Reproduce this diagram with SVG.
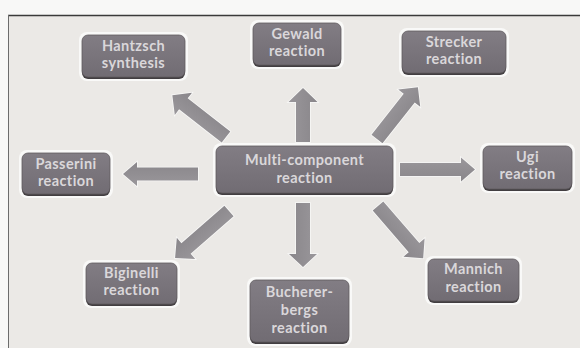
<svg xmlns="http://www.w3.org/2000/svg" width="580" height="348" viewBox="0 0 580 348">
  <defs>
    <linearGradient id="boxFill" x1="0" y1="0" x2="0" y2="1">
      <stop offset="0" stop-color="#827d84"/>
      <stop offset="1" stop-color="#716c73"/>
    </linearGradient>
    <linearGradient id="arrowFill" x1="0" y1="0" x2="0" y2="1">
      <stop offset="0" stop-color="#9a979b"/>
      <stop offset="1" stop-color="#89868a"/>
    </linearGradient>
  </defs>
  <style>
    .halo { fill: #fbfbfa; opacity: 0.85; }
    .shadow { fill: #423e41; }
    .box { fill: url(#boxFill); stroke: #5f5b5e; stroke-width: 0.8; }
    .label { font-family: Lato, "Liberation Sans", sans-serif; font-weight: 700; font-size: 14.5px; letter-spacing: 0.4px; fill: #dad7da; text-anchor: middle; }
    .arrow { fill: url(#arrowFill); stroke: #f8f8f7; stroke-width: 1.6; paint-order: stroke; stroke-linejoin: miter; }
  </style>

  <!-- page background -->
  <rect x="0" y="0" width="580" height="348" fill="#f8f8f7"/>
  <rect x="8" y="15" width="572" height="333" fill="#ebe9e6"/>
  <line x1="8" y1="15.5" x2="580" y2="15.5" stroke="#3a3a3a" stroke-width="1.6"/>
  <line x1="8.5" y1="15" x2="8.5" y2="348" stroke="#6c6c6c" stroke-width="1"/>

  <!-- connectors -->
  <g id="connectors">
    <path class="arrow" transform="translate(226,137) rotate(217.9)" d="M0,-7 H54 V-14 L68,0 L54,14 V7 H0 Z"/>
    <path class="arrow" transform="translate(303,142) rotate(-90)" d="M0,-7 H40 V-14.5 L54,0 L40,14.5 V7 H0 Z"/>
    <path class="arrow" transform="translate(377,139) rotate(-51.7)" d="M0,-7 H52 V-14 L66,0 L52,14 V7 H0 Z"/>
    <path class="arrow" transform="translate(198,174) rotate(180)" d="M0,-6.5 H61 V-12 L75,0 L61,12 V6.5 H0 Z"/>
    <path class="arrow" transform="translate(400,169.5) rotate(0)" d="M0,-6.5 H61 V-12 L75,0 L61,12 V6.5 H0 Z"/>
    <path class="arrow" transform="translate(229,211) rotate(138.96)" d="M0,-7 H57 V-14 L71.5,0 L57,14 V7 H0 Z"/>
    <path class="arrow" transform="translate(303,203) rotate(90)" d="M0,-7 H51 V-14 L64,0 L51,14 V7 H0 Z"/>
    <path class="arrow" transform="translate(378,206) rotate(49.1)" d="M0,-7 H55 V-14 L69,0 L55,14 V7 H0 Z"/>
  </g>

  <!-- nodes -->
  <g id="hantzsch">
    <rect class="halo" x="79" y="32" width="109" height="49" rx="8"/>
    <rect class="shadow" x="82" y="37" width="103" height="42" rx="6"/>
    <rect class="box" x="82" y="35" width="103" height="42" rx="6"/>
    <text class="label" x="133.5" y="50.5">Hantzsch</text>
    <text class="label" x="133.5" y="68">synthesis</text>
  </g>

  <g id="gewald">
    <rect class="halo" x="250" y="20" width="94" height="49" rx="8"/>
    <rect class="shadow" x="253" y="25" width="88" height="42" rx="6"/>
    <rect class="box" x="253" y="23" width="88" height="42" rx="6"/>
    <text class="label" x="297" y="38.5">Gewald</text>
    <text class="label" x="297" y="56">reaction</text>
  </g>

  <g id="strecker">
    <rect class="halo" x="399" y="28" width="110" height="49" rx="8"/>
    <rect class="shadow" x="402" y="33" width="104" height="42" rx="6"/>
    <rect class="box" x="402" y="31" width="104" height="42" rx="6"/>
    <text class="label" x="454" y="46.5">Strecker</text>
    <text class="label" x="454" y="64">reaction</text>
  </g>

  <g id="multi-component">
    <rect class="halo" x="213" y="143" width="183" height="54" rx="8"/>
    <rect class="shadow" x="216" y="148" width="177" height="47" rx="6"/>
    <rect class="box" x="216" y="146" width="177" height="47" rx="6"/>
    <text class="label" x="304.5" y="164.5">Multi-component</text>
    <text class="label" x="304.5" y="182.5">reaction</text>
  </g>

  <g id="passerini">
    <rect class="halo" x="19" y="150" width="94" height="48" rx="8"/>
    <rect class="shadow" x="22" y="155" width="88" height="41" rx="6"/>
    <rect class="box" x="22" y="153" width="88" height="41" rx="6"/>
    <text class="label" x="66" y="168.5">Passerini</text>
    <text class="label" x="66" y="186">reaction</text>
  </g>

  <g id="ugi">
    <rect class="halo" x="480" y="143" width="95" height="50" rx="8"/>
    <rect class="shadow" x="483" y="148" width="89" height="43" rx="6"/>
    <rect class="box" x="483" y="146" width="89" height="43" rx="6"/>
    <text class="label" x="527.5" y="161.5">Ugi</text>
    <text class="label" x="527.5" y="179">reaction</text>
  </g>

  <g id="biginelli">
    <rect class="halo" x="83" y="260" width="97" height="48" rx="8"/>
    <rect class="shadow" x="86" y="265" width="91" height="41" rx="6"/>
    <rect class="box" x="86" y="263" width="91" height="41" rx="6"/>
    <text class="label" x="131.5" y="277.5">Biginelli</text>
    <text class="label" x="131.5" y="295">reaction</text>
  </g>

  <g id="bucherer-bergs">
    <rect class="halo" x="247" y="277" width="105" height="69" rx="8"/>
    <rect class="shadow" x="250" y="282" width="99" height="62" rx="6"/>
    <rect class="box" x="250" y="280" width="99" height="62" rx="6"/>
    <text class="label" x="299.5" y="296.5">Bucherer-</text>
    <text class="label" x="299.5" y="314.5">bergs</text>
    <text class="label" x="299.5" y="332.5">reaction</text>
  </g>

  <g id="mannich">
    <rect class="halo" x="425" y="256" width="97" height="49" rx="8"/>
    <rect class="shadow" x="428" y="261" width="91" height="42" rx="6"/>
    <rect class="box" x="428" y="259" width="91" height="42" rx="6"/>
    <text class="label" x="473.5" y="274">Mannich</text>
    <text class="label" x="473.5" y="291.5">reaction</text>
  </g>
</svg>
